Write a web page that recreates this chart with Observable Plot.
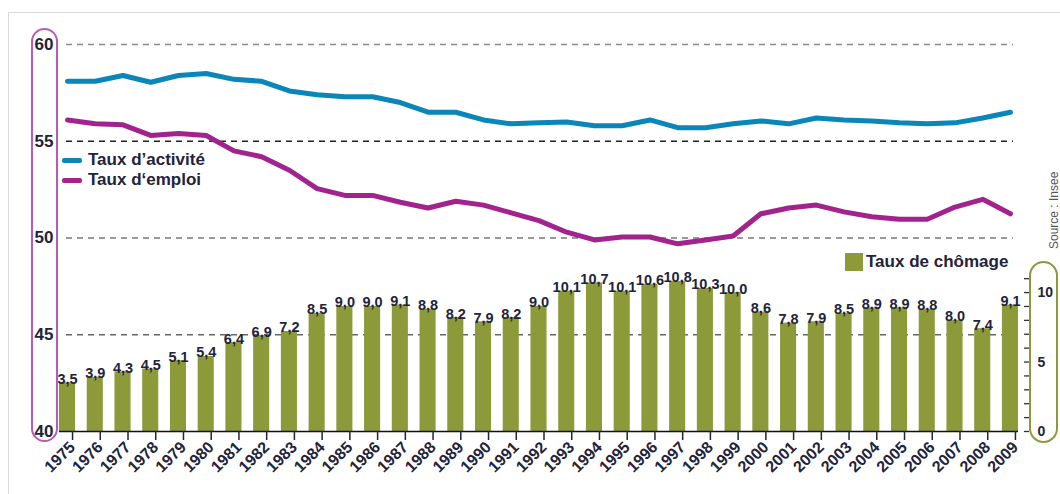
<!DOCTYPE html>
<html><head><meta charset="utf-8">
<script src="https://cdn.jsdelivr.net/npm/d3@7"></script>
<script src="https://cdn.jsdelivr.net/npm/@observablehq/plot@0.6"></script>
<style>
body{margin:0;background:#fff;}
#wrap{position:relative;width:1060px;height:494px;overflow:hidden;font-family:"Liberation Sans",Arial,sans-serif;color:#23233a;}
#wrap svg{position:absolute;left:0;top:0;}
.abs{position:absolute;}
.frame{left:8px;top:12px;width:1200px;height:600px;border:1.5px solid #d9d9d9;}
.ovalL{left:31px;top:28px;width:27px;height:414px;box-sizing:border-box;border:2px solid #b65cb6;border-radius:14px;}
.ovalR{left:1029px;top:261px;width:29px;height:182px;box-sizing:border-box;border:2px solid #8d9a3c;border-radius:15px;}
.sw{width:20px;height:5px;border-radius:2px;}
.lg{font-size:17px;font-weight:bold;line-height:20px;white-space:nowrap;}
.src{font-size:12px;color:#555;transform:rotate(-90deg);transform-origin:left top;white-space:nowrap;}
</style></head><body><div id="wrap">
<div class="abs frame"></div>
<div class="abs ovalL"></div>
<div class="abs ovalR"></div>
</div>
<script>
const years = [1975,1976,1977,1978,1979,1980,1981,1982,1983,1984,1985,1986,1987,1988,1989,1990,1991,1992,1993,1994,1995,1996,1997,1998,1999,2000,2001,2002,2003,2004,2005,2006,2007,2008,2009];
const tauxActivite = [58.1,58.1,58.4,58.05,58.4,58.5,58.2,58.1,57.6,57.4,57.3,57.3,57.0,56.5,56.5,56.1,55.9,55.95,56.0,55.8,55.8,56.1,55.7,55.7,55.9,56.05,55.9,56.2,56.1,56.05,55.95,55.9,55.95,56.2,56.5];
const tauxEmploi = [56.1,55.9,55.85,55.3,55.4,55.3,54.5,54.2,53.5,52.55,52.2,52.2,51.85,51.55,51.9,51.7,51.3,50.9,50.3,49.9,50.05,50.05,49.7,49.9,50.1,51.25,51.55,51.7,51.35,51.1,50.97,50.97,51.6,52.0,51.25];
const tauxChomage = [3.5,3.9,4.3,4.5,5.1,5.4,6.4,6.9,7.2,8.5,9.0,9.0,9.1,8.8,8.2,7.9,8.2,9.0,10.1,10.7,10.1,10.6,10.8,10.3,10.0,8.6,7.8,7.9,8.5,8.9,8.9,8.8,8.0,7.4,9.1];
const leftTicks = [40,45,50,55,60];
const rightTicks = [0,1,2,3,4,5,6,7,8,9,10,11];
const rightLabels = [0,5,10];
const seriesNames = ["Taux d’activité","Taux d‘emploi","Taux de chômage"];
const colors = {act:"#0a86b8", emp:"#a2238e", cho:"#8d9a3a", ink:"#23233a"};

// right (chômage) axis expressed in left-axis units
const base = 40, k = 0.718;
const toLeft = v => base + v * k;
const fromLeft = y => Math.round((y - base) / k);

const rows = years.map((y,i)=>({year:y, act:tauxActivite[i], emp:tauxEmploi[i], cho:tauxChomage[i]}));
const fmt = v => d3.format(".1f")(v).replace(".", ",");

const chart = Plot.plot({
  width:1060, height:494,
  marginLeft:59, marginRight:42, marginTop:44, marginBottom:63,
  x:{type:"band", domain:years, paddingInner:0.42, paddingOuter:0, round:false, label:null},
  y:{domain:[40,60], label:null},
  style:{background:"transparent", fontFamily:"'Liberation Sans', Arial, sans-serif", color:colors.ink, overflow:"visible"},
  marks:[
    Plot.ruleY([60], {stroke:"#8a8a8a", strokeWidth:1.6, strokeDasharray:"6,5", insetLeft:7, insetRight:5}),
    Plot.ruleY([55], {stroke:"#222", strokeWidth:1.6, strokeDasharray:"6,5", insetLeft:7, insetRight:5}),
    Plot.ruleY([50], {stroke:"#777", strokeWidth:1.6, strokeDasharray:"6,5", insetLeft:7, insetRight:5}),
    Plot.ruleY([45], {stroke:"#666", strokeWidth:1.4, strokeDasharray:"6,5", insetLeft:7, insetRight:5}),
    Plot.barY(rows, {x:"year", y1:base, y2:d=>toLeft(d.cho), fill:colors.cho}),
    Plot.text(rows, {x:"year", y:d=>toLeft(d.cho), text:d=>fmt(d.cho), lineAnchor:"bottom", dy:1, fontSize:14.5, fontWeight:"bold", fill:colors.ink}),
    Plot.line(rows, {x:"year", y:"act", stroke:colors.act, strokeWidth:5, strokeLinejoin:"round", strokeLinecap:"round"}),
    Plot.line(rows, {x:"year", y:"emp", stroke:colors.emp, strokeWidth:5, strokeLinejoin:"round", strokeLinecap:"round"}),
    Plot.ruleY([base], {stroke:"#111", strokeWidth:1.6}),
    Plot.axisY(leftTicks, {anchor:"left", tickSize:0, tickPadding:6, fontSize:17, fontWeight:"bold", label:null}),
    Plot.axisY(rightTicks.map(toLeft), {anchor:"right", tickSize:5, dx:5, tickPadding:9, stroke:"#333", strokeWidth:1.3,
      tickFormat:d=>rightLabels.includes(fromLeft(d)) ? String(fromLeft(d)) : "", fontSize:14, fontWeight:"bold", label:null}),
    Plot.axisX({anchor:"bottom", tickSize:9, tickRotate:-45, tickPadding:4, dx:5, tickFormat:d=>String(d), fontSize:16, fontWeight:"bold", label:null, strokeWidth:1.5})
  ]
});
const wrap = document.getElementById("wrap");
wrap.appendChild(chart);

function addDiv(cls, css, html){ const d=document.createElement("div"); d.className="abs "+cls; Object.assign(d.style, css); if(html) d.textContent=html; wrap.appendChild(d); return d; }
addDiv("sw", {left:"62px", top:"157.5px", background:colors.act});
addDiv("lg", {left:"88px", top:"150px"}, seriesNames[0]);
addDiv("sw", {left:"62px", top:"177.5px", background:colors.emp});
addDiv("lg", {left:"88px", top:"170px"}, seriesNames[1]);
addDiv("", {left:"845px", top:"253px", width:"18px", height:"18px", background:colors.cho});
addDiv("lg", {left:"866px", top:"252px"}, seriesNames[2]);
addDiv("src", {left:"1047px", top:"249px"}, "Source : Insee");
</script></body></html>
